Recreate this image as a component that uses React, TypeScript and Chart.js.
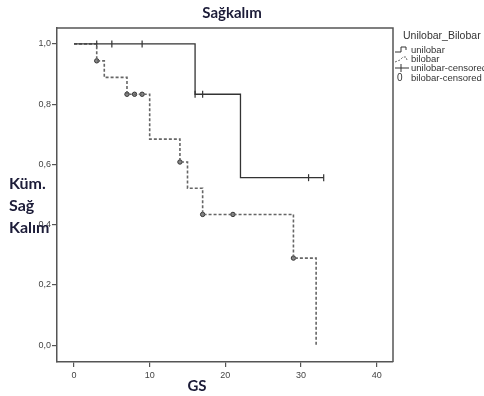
import React, { useEffect, useRef } from 'react';
import { Chart, registerables } from 'chart.js';

Chart.register(...registerables);

// ---- data ----
const uniTimes = [0, 16, 22, 33];
const uniSurv = [1.0, 0.833, 0.556, 0.556];
const biTimes = [0, 3, 4, 7, 10, 14, 15, 17, 29, 32];
const biSurv = [1.0, 0.944, 0.889, 0.833, 0.684, 0.608, 0.521, 0.434, 0.289, 0.0];
const uniCensorTimes = [3, 5, 9, 16, 17, 31, 33];
const uniCensorSurv = [1.0, 1.0, 1.0, 0.833, 0.833, 0.556, 0.556];
const biCensorTimes = [3, 7, 8, 9, 14, 17, 21, 29];
const biCensorSurv = [0.944, 0.833, 0.833, 0.833, 0.608, 0.434, 0.434, 0.289];
const yTicks = [0, 0.2, 0.4, 0.6, 0.8, 1.0];
const xTicks = [0, 10, 20, 30, 40];
const chartTitle = 'Sağkalım';
const yTitleLines = ['Küm.', 'Sağ', 'Kalım'];
const xTitle = 'GS';
const legendTitle = 'Unilobar_Bilobar';
const legendLabels = ['unilobar', 'bilobar', 'unilobar-censored', 'bilobar-censored'];

const toXY = (xs: number[], ys: number[]) => xs.map((x, i) => ({ x, y: ys[i] }));

const TITLE_FONT = 'bold 15px Lato, "Open Sans", sans-serif';
const YTITLE_FONT = 'bold 16px Lato, "Open Sans", sans-serif';
const TITLE_COLOR = '#1c1c38';

const decorPlugin = {
  id: 'decor',
  afterDraw(chart: any) {
    const { ctx, chartArea } = chart;
    const { left, right, top, bottom } = chartArea;
    ctx.save();
    // frame top & right
    ctx.strokeStyle = '#555';
    ctx.lineWidth = 1.5;
    ctx.beginPath();
    ctx.moveTo(left, top);
    ctx.lineTo(right, top);
    ctx.lineTo(right, bottom);
    ctx.stroke();

    // chart title
    ctx.fillStyle = TITLE_COLOR;
    ctx.font = TITLE_FONT;
    ctx.textAlign = 'center';
    ctx.textBaseline = 'middle';
    ctx.fillText(chartTitle, 232, 13);

    // x title
    ctx.fillText(xTitle, 197, 386);

    // y title lines
    ctx.font = YTITLE_FONT;
    ctx.textAlign = 'left';
    yTitleLines.forEach((t, i) => ctx.fillText(t, 9, 184 + i * 22));

    // legend
    ctx.fillStyle = '#333';
    ctx.font = '10.5px "Liberation Sans", Arial, sans-serif';
    ctx.textAlign = 'left';
    ctx.fillText(legendTitle, 403, 36);
    ctx.font = '9.5px "Liberation Sans", Arial, sans-serif';
    const rowY = [50, 59, 68, 78];
    const tx = 411;
    legendLabels.forEach((t, i) => ctx.fillText(t, tx, rowY[i]));

    // icons
    ctx.strokeStyle = '#333';
    ctx.lineWidth = 1;
    // unilobar step
    let y = rowY[0];
    ctx.beginPath();
    ctx.moveTo(395, y + 2);
    ctx.lineTo(401, y + 2);
    ctx.lineTo(401, y - 3);
    ctx.lineTo(406, y - 3);
    ctx.lineTo(406, y);
    ctx.stroke();
    // bilobar dashed step
    y = rowY[1];
    ctx.setLineDash([2, 1.5]);
    ctx.strokeStyle = '#666';
    ctx.beginPath();
    ctx.moveTo(395, y + 3);
    ctx.lineTo(400, y + 1);
    ctx.lineTo(403, y - 2);
    ctx.lineTo(406, y - 2);
    ctx.lineTo(407, y + 1);
    ctx.stroke();
    ctx.setLineDash([]);
    // unilobar censored
    y = rowY[2];
    ctx.strokeStyle = '#333';
    ctx.beginPath();
    ctx.moveTo(395, y);
    ctx.lineTo(409, y);
    ctx.moveTo(401, y - 4);
    ctx.lineTo(401, y + 4);
    ctx.stroke();
    // bilobar censored '0'
    ctx.fillStyle = '#333';
    ctx.font = '10px "Liberation Sans", Arial, sans-serif';
    ctx.fillText('0', 397, rowY[3]);

    ctx.restore();
  },
};

export default function App() {
  const ref = useRef<HTMLCanvasElement | null>(null);
  useEffect(() => {
    if (!ref.current) return;
    const chart = new Chart(ref.current, {
      type: 'scatter',
      data: {
        datasets: [
          {
            label: 'unilobar',
            data: toXY(uniTimes, uniSurv),
            showLine: true,
            stepped: 'before',
            borderColor: '#333',
            borderWidth: 1.3,
            pointRadius: 0,
            fill: false,
          },
          {
            label: 'bilobar',
            data: toXY(biTimes, biSurv),
            showLine: true,
            stepped: 'before',
            borderColor: '#666',
            borderWidth: 1.6,
            borderDash: [3, 2],
            pointRadius: 0,
            fill: false,
          },
          {
            label: 'unilobar-censored',
            data: toXY(uniCensorTimes, uniCensorSurv),
            pointStyle: 'line',
            rotation: 90,
            pointRadius: 3.5,
            borderColor: '#333',
            borderWidth: 1.2,
            backgroundColor: '#333',
          },
          {
            label: 'bilobar-censored',
            data: toXY(biCensorTimes, biCensorSurv),
            pointStyle: 'circle',
            pointRadius: 2.2,
            borderColor: '#333',
            borderWidth: 1,
            backgroundColor: '#888',
          },
        ],
      } as any,
      options: {
        animation: false,
        responsive: false,
        maintainAspectRatio: false,
        layout: { padding: { top: 28, right: 91, left: 0, bottom: 0 } },
        plugins: {
          legend: { display: false },
          tooltip: { enabled: false },
          title: { display: false },
        },
        scales: {
          x: {
            type: 'linear',
            min: -2.25,
            max: 42.16,
            afterFit: (s: any) => {
              s.height = 34;
            },
            afterBuildTicks: (s: any) => {
              s.ticks = xTicks.map((v) => ({ value: v }));
            },
            ticks: {
              color: '#444',
              font: { family: '"Liberation Sans", Arial, sans-serif', size: 9 },
              padding: 3,
              maxRotation: 0,
              callback: (v: any) => String(v),
            },
            grid: { drawOnChartArea: false, drawTicks: true, tickLength: 5, color: '#555', lineWidth: 1.2 },
            border: { display: true, color: '#555', width: 1.5 },
          },
          y: {
            type: 'linear',
            min: -0.056,
            max: 1.053,
            afterFit: (s: any) => {
              s.width = 57;
            },
            afterBuildTicks: (s: any) => {
              s.ticks = yTicks.map((v) => ({ value: v }));
            },
            ticks: {
              color: '#444',
              font: { family: '"Liberation Sans", Arial, sans-serif', size: 9 },
              padding: 1,
              callback: (v: any) => Number(v).toFixed(1).replace('.', ','),
            },
            grid: { drawOnChartArea: false, drawTicks: true, tickLength: 5, color: '#555', lineWidth: 1.2 },
            border: { display: true, color: '#555', width: 1.5 },
          },
        },
      } as any,
      plugins: [decorPlugin],
    });
    return () => chart.destroy();
  }, []);

  return (
    <div style={{ position: 'absolute', left: 0, top: 0, width: 484, height: 396, background: '#fff' }}>
      <canvas ref={ref} width={484} height={396} style={{ width: 484, height: 396, display: 'block' }} />
    </div>
  );
}
